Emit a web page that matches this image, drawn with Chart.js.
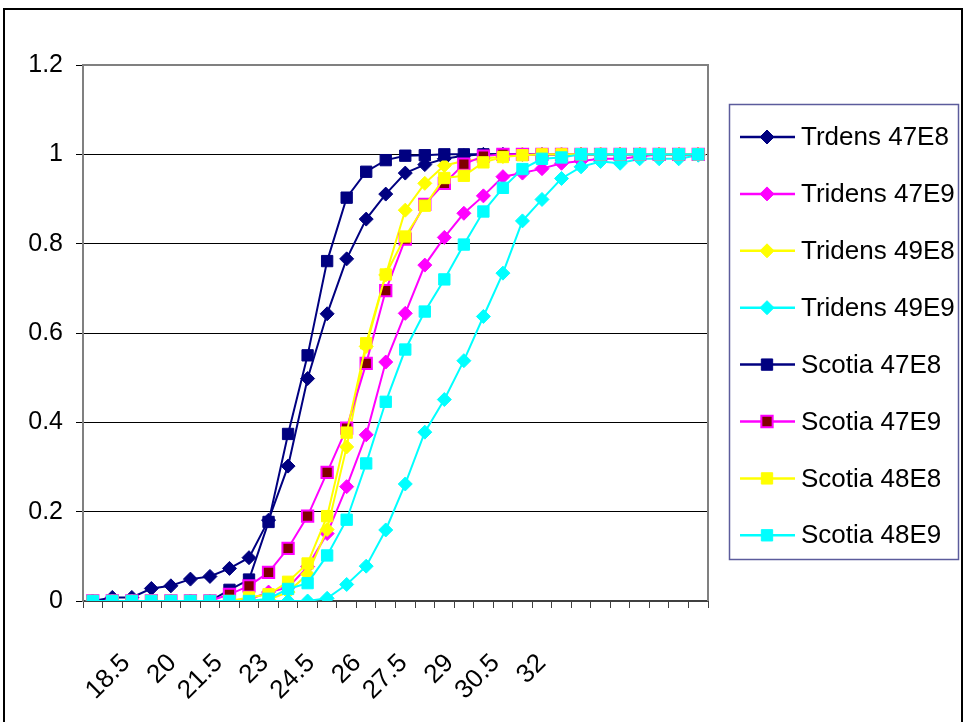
<!DOCTYPE html>
<html>
<head>
<meta charset="utf-8">
<script src="https://cdn.jsdelivr.net/npm/chart.js@4.4.1/dist/chart.umd.min.js"></script>
<style>
    html, body { margin: 0; padding: 0; background: #fff; }
    #contenedor { width: 966px; height: 722px; position: relative; }
</style>
</head>
<body>
<div id="contenedor"><canvas id="grafico" width="966" height="722"></canvas></div>
<script>
var CATEGORIAS = ['17', '17.5', '18', '18.5', '19', '19.5', '20', '20.5', '21', '21.5', '22', '22.5', '23', '23.5', '24', '24.5',
    '25', '25.5', '26', '26.5', '27', '27.5', '28', '28.5', '29', '29.5', '30', '30.5', '31', '31.5', '32', '32.5'];
var ETIQUETAS_X = [18.5, 20, 21.5, 23, 24.5, 26, 27.5, 29, 30.5, 32];
var ETIQUETAS_Y = [0, 0.2, 0.4, 0.6, 0.8, 1, 1.2];

var TRDENS_47E8 = [0, 0.008, 0.008, 0.028, 0.034, 0.049, 0.055, 0.073, 0.097, 0.181, 0.302, 0.498, 0.643, 0.766, 0.855, 0.911,
    0.958, 0.977, 0.99, 0.997, 1, 1, 1, 1, 1, 1, 1, 1, 1, 1, 1, 1];
var TRIDENS_47E9 = [0, 0, 0, 0, 0, 0, 0, 0, 0.003, 0.02, 0.03, 0.077, 0.151, 0.256, 0.372, 0.535,
    0.644, 0.752, 0.814, 0.868, 0.907, 0.95, 0.958, 0.968, 0.98, 0.985, 0.99, 0.99, 0.995, 1, 1, 1];
var TRIDENS_49E8 = [0, 0, 0, 0, 0, 0, 0, 0, 0, 0.003, 0.02, 0.06, 0.16, 0.345, 0.57, 0.73,
    0.875, 0.935, 0.975, 0.985, 0.99, 0.995, 1, 1, 1, 1, 1, 1, 1, 1, 1, 1];
var TRIDENS_49E9 = [0, 0, 0, 0, 0, 0, 0, 0, 0, 0, 0, 0, 0.006, 0.037, 0.078, 0.159,
    0.262, 0.378, 0.451, 0.538, 0.637, 0.734, 0.851, 0.899, 0.946, 0.972, 0.984, 0.98, 0.99, 0.99, 0.99, 0.998];
var SCOTIA_47E8 = [0, 0, 0, 0, 0, 0, 0, 0.025, 0.048, 0.177, 0.374, 0.55, 0.761, 0.903, 0.961, 0.987,
    0.997, 0.998, 1, 1, 1, 1, 1, 1, 1, 1, 1, 1, 1, 1, 1, 1];
var SCOTIA_47E9 = [0, 0, 0, 0, 0, 0, 0, 0.015, 0.034, 0.064, 0.118, 0.19, 0.288, 0.387, 0.532, 0.695,
    0.81, 0.888, 0.935, 0.978, 0.996, 1, 1, 1, 1, 1, 1, 1, 1, 1, 1, 1];
var SCOTIA_48E8 = [0, 0, 0, 0, 0, 0, 0, 0, 0.008, 0.015, 0.043, 0.084, 0.19, 0.377, 0.577, 0.731,
    0.816, 0.885, 0.947, 0.952, 0.982, 0.994, 0.998, 1, 1, 1, 1, 1, 1, 1, 1, 1];
var SCOTIA_48E9 = [0, 0, 0, 0, 0, 0, 0, 0, 0, 0.005, 0.027, 0.04, 0.102, 0.182, 0.308, 0.446,
    0.563, 0.648, 0.72, 0.798, 0.872, 0.925, 0.967, 0.99, 0.993, 1, 1, 1, 1, 1, 1, 1];

var FUENTE = "'Liberation Sans', Arial, sans-serif";

function serie(nombre, datos, color, estilo, relleno, borde, anchoBorde, orden) {
    return {
        label: nombre,
        data: datos,
        borderColor: color,
        backgroundColor: color,
        borderWidth: 2,
        tension: 0,
        fill: false,
        pointStyle: estilo,
        pointRadius: estilo === 'rectRot' ? 7 : 8,
        pointBackgroundColor: relleno,
        pointBorderColor: borde,
        pointBorderWidth: anchoBorde,
        order: orden
    };
}

// marco gris del area de trazado (solo arriba y derecha)
var marcoPlugin = {
    id: 'marco',
    beforeDatasetsDraw: function (chart) {
        var ctx = chart.ctx;
        var a = chart.chartArea;
        ctx.save();
        ctx.strokeStyle = '#808080';
        ctx.lineWidth = 2;
        ctx.beginPath();
        ctx.moveTo(a.left, a.top);
        ctx.lineTo(a.right, a.top);
        ctx.lineTo(a.right, a.bottom);
        ctx.stroke();
        ctx.restore();
    }
};

function dibujarMarcador(ctx, ds, x, y) {
    var r = ds.pointRadius;
    ctx.beginPath();
    if (ds.pointStyle === 'rectRot') {
        ctx.moveTo(x - r, y);
        ctx.lineTo(x, y - r);
        ctx.lineTo(x + r, y);
        ctx.lineTo(x, y + r);
        ctx.closePath();
    } else {
        var s = r * Math.SQRT1_2;
        ctx.rect(x - s, y - s, 2 * s, 2 * s);
    }
    ctx.fillStyle = ds.pointBackgroundColor;
    ctx.fill();
    ctx.lineWidth = ds.pointBorderWidth;
    ctx.strokeStyle = ds.pointBorderColor;
    ctx.stroke();
}

// leyenda dibujada a mano, como en Excel
var leyendaPlugin = {
    id: 'leyenda',
    afterDraw: function (chart) {
        var ctx = chart.ctx;
        ctx.save();
        // borde exterior del grafico
        ctx.strokeStyle = '#000';
        ctx.lineWidth = 2;
        ctx.strokeRect(4, 9, 958, 800);
        // caja de la leyenda
        ctx.strokeStyle = '#5c5c9c';
        ctx.lineWidth = 1.5;
        ctx.strokeRect(729.5, 104.5, 229, 455);
        var datasets = chart.data.datasets;
        for (var i = 0; i < datasets.length; i++) {
            var ds = datasets[i];
            var y = 137 + i * 56.9;
            ctx.strokeStyle = ds.borderColor;
            ctx.lineWidth = 2.5;
            ctx.beginPath();
            ctx.moveTo(740, y);
            ctx.lineTo(795, y);
            ctx.stroke();
            dibujarMarcador(ctx, ds, 767, y);
            ctx.fillStyle = '#000';
            ctx.font = '26px ' + FUENTE;
            ctx.textAlign = 'left';
            ctx.textBaseline = 'middle';
            ctx.fillText(ds.label, 801, y + 1);
        }
        ctx.restore();
    }
};

var GRAFICO = new Chart(document.getElementById('grafico'), {
    type: 'line',
    data: {
        labels: CATEGORIAS,
        datasets: [
            serie('Trdens 47E8', TRDENS_47E8, '#000080', 'rectRot', '#000080', '#000080', 1, 7),
            serie('Tridens 47E9', TRIDENS_47E9, '#FF00FF', 'rectRot', '#FF00FF', '#FF00FF', 1, 6),
            serie('Tridens 49E8', TRIDENS_49E8, '#FFFF00', 'rectRot', '#FFFF00', '#FFFF00', 1, 5),
            serie('Tridens 49E9', TRIDENS_49E9, '#00FFFF', 'rectRot', '#00FFFF', '#00FFFF', 1, 4),
            serie('Scotia 47E8', SCOTIA_47E8, '#000080', 'rect', '#000080', '#000080', 1, 3),
            serie('Scotia 47E9', SCOTIA_47E9, '#FF00FF', 'rect', '#800000', '#FF00FF', 2, 2),
            serie('Scotia 48E8', SCOTIA_48E8, '#FFFF00', 'rect', '#FFFF00', '#FFFF00', 1, 1),
            serie('Scotia 48E9', SCOTIA_48E9, '#00FFFF', 'rect', '#00FFFF', '#00FFFF', 1, 0)
        ]
    },
    options: {
        responsive: false,
        devicePixelRatio: 1,
        animation: false,
        layout: {
            padding: {top: 65, right: 258, bottom: 0, left: 0}
        },
        plugins: {
            legend: {display: false},
            tooltip: {enabled: false}
        },
        scales: {
            x: {
                type: 'category',
                position: 'bottom',
                weight: 0,
                offset: true,
                grid: {offset: true, drawOnChartArea: false, drawTicks: true, tickLength: 7, color: '#404040', lineWidth: 1},
                border: {color: '#404040', width: 2},
                ticks: {display: false, autoSkip: false},
                afterFit: function (eje) {
                    eje.height = 7;
                }
            },
            xl: {
                type: 'linear',
                position: 'bottom',
                weight: 1,
                min: 17.1,
                max: 37.39,
                grid: {display: false},
                border: {display: false},
                afterBuildTicks: function (eje) {
                    eje.ticks = ETIQUETAS_X.map(function (v) {
                        return {value: v};
                    });
                },
                ticks: {
                    autoSkip: false,
                    minRotation: 45,
                    maxRotation: 45,
                    padding: 32,
                    color: '#000',
                    font: {family: FUENTE, size: 26},
                    callback: function (v) {
                        return String(v);
                    }
                },
                afterFit: function (eje) {
                    eje.height = 114;
                }
            },
            y: {
                min: 0,
                max: 1.2,
                afterBuildTicks: function (eje) {
                    eje.ticks = ETIQUETAS_Y.map(function (v) {
                        return {value: v};
                    });
                },
                grid: {color: '#000', lineWidth: 1, tickLength: 7},
                border: {color: '#808080', width: 2},
                ticks: {
                    padding: 13,
                    color: '#000',
                    font: {family: FUENTE, size: 25},
                    callback: function (v) {
                        return String(Math.round(v * 10) / 10);
                    }
                },
                afterFit: function (eje) {
                    eje.width = 83;
                }
            }
        }
    },
    plugins: [marcoPlugin, leyendaPlugin]
});
</script>
</body>
</html>
